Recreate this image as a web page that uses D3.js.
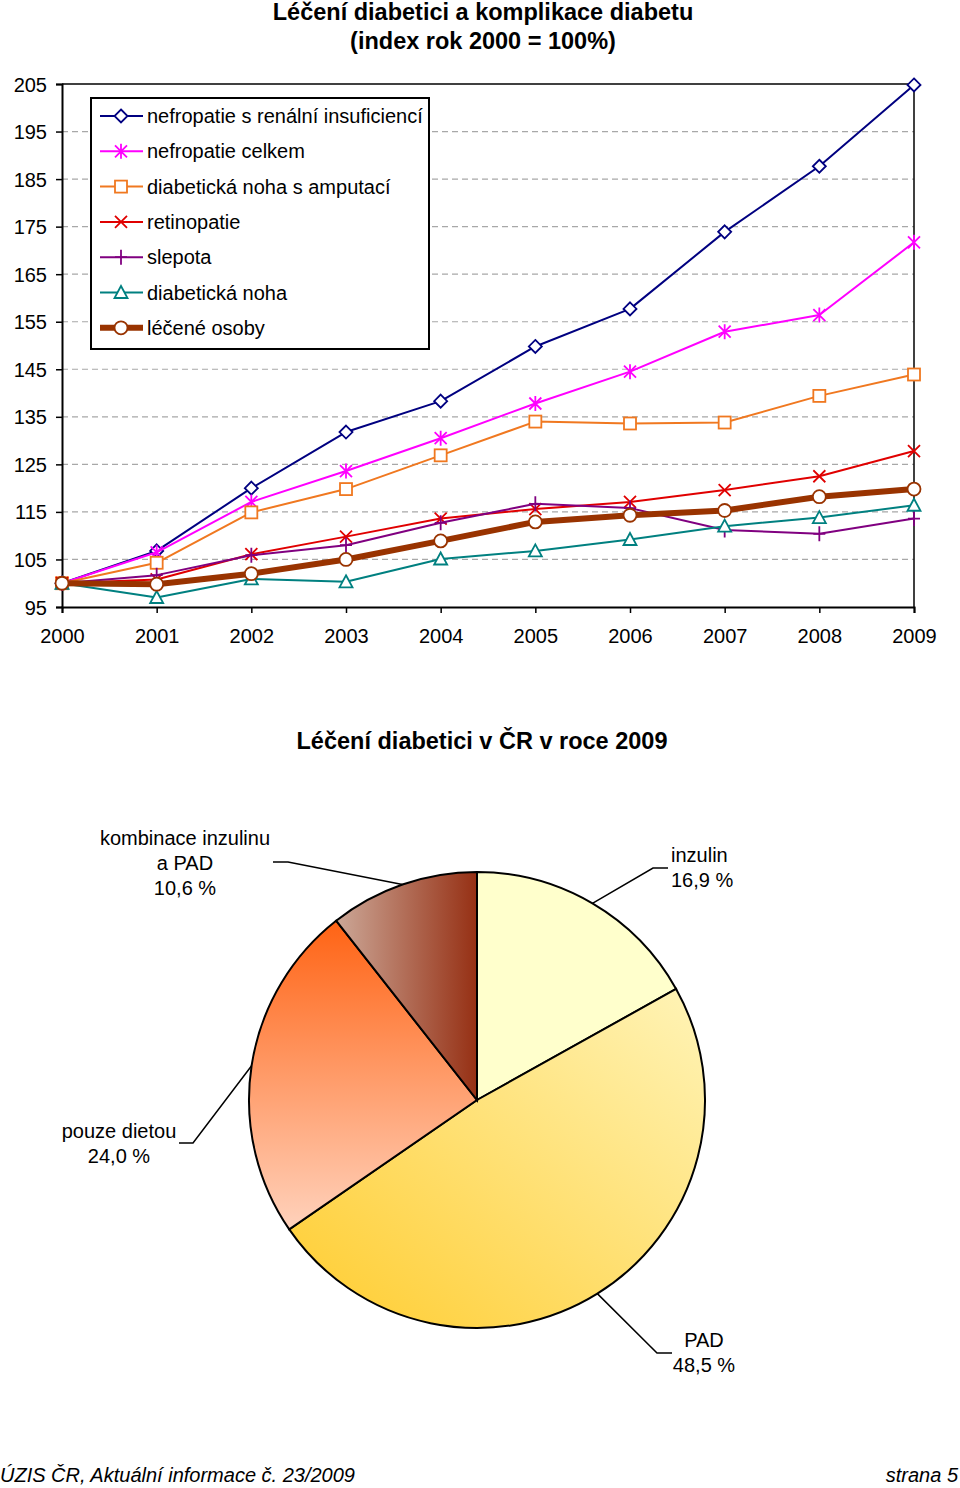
<!DOCTYPE html>
<html><head><meta charset="utf-8">
<script src="https://cdn.jsdelivr.net/npm/d3@7"></script>
<style>
body{margin:0;background:#fff;}
svg{display:block;font-family:"Liberation Sans",Arial,sans-serif;}
</style></head>
<body><svg id="c" width="960" height="1488"></svg>
<script>
const years = [2000,2001,2002,2003,2004,2005,2006,2007,2008,2009];
const yTicks = [95,105,115,125,135,145,155,165,175,185,195,205];
const seriesNames = ["nefropatie s renální insuficiencí","nefropatie celkem","diabetická noha s amputací","retinopatie","slepota","diabetická noha","léčené osoby"];
const nefroRen = [100,106.8,120.0,131.8,138.3,149.8,157.7,173.9,187.7,204.8];
const nefroCelk = [100,106.5,117.1,123.6,130.5,137.8,144.5,152.9,156.4,171.7];
const nohaAmp = [100,104.3,114.9,119.8,126.9,134.0,133.6,133.8,139.4,143.9];
const retino = [100,100.8,106.1,109.8,113.6,115.6,117.1,119.6,122.5,127.8];
const slepota = [100,101.7,105.9,108.0,112.7,116.7,115.8,111.2,110.4,113.6];
const noha = [100,97.0,100.9,100.3,105.1,106.8,109.2,112.0,113.8,116.4];
const leceni = [100,99.8,102.0,105.0,108.9,112.9,114.3,115.3,118.2,119.8];
const seriesValues = [nefroRen,nefroCelk,nohaAmp,retino,slepota,noha,leceni];

const pieLabels = ["inzulin","PAD","pouze dietou","kombinace inzulinu\na PAD"];
const pieValues = [16.9,48.5,24.0,10.6];

const svg = d3.select("#c");
const styles = [
 {c:"#000080",w:2,m:"diamond"},
 {c:"#FF00FF",w:2,m:"star"},
 {c:"#F07820",w:2,m:"square"},
 {c:"#E00000",w:2,m:"x"},
 {c:"#800080",w:2,m:"plus"},
 {c:"#008080",w:2,m:"triangle"},
 {c:"#993300",w:6,m:"circle"}
];
const FS = 20;

// Titles
svg.append("text").attr("x",483).attr("y",20).attr("text-anchor","middle").attr("font-weight","bold").attr("font-size",23.5).text("Léčení diabetici a komplikace diabetu");
svg.append("text").attr("x",483).attr("y",49).attr("text-anchor","middle").attr("font-weight","bold").attr("font-size",23.5).text("(index rok 2000 = 100%)");

const x = d3.scaleLinear().domain([2000,2009]).range([62,914]);
const y = d3.scaleLinear().domain([95,205]).range([607,84]);

const g = svg.append("g");
g.selectAll("line.grid").data(yTicks.filter(t=>t>95&&t<205)).join("line")
 .attr("x1",62).attr("x2",914).attr("y1",d=>y(d)).attr("y2",d=>y(d))
 .attr("stroke","#a8a8a8").attr("stroke-width",1.2).attr("stroke-dasharray","6,4");
g.append("line").attr("x1",62).attr("x2",914).attr("y1",y(205)).attr("y2",y(205)).attr("stroke","#000").attr("stroke-width",1.5);
g.append("line").attr("x1",914).attr("x2",914).attr("y1",y(205)).attr("y2",y(95)).attr("stroke","#000").attr("stroke-width",1.5);

const yAxis = d3.axisLeft(y).tickValues(yTicks).tickSize(6).tickFormat(d3.format("d"));
const ya = g.append("g").attr("transform","translate(62,0)").call(yAxis);
ya.select(".domain").attr("stroke-width",2);
ya.selectAll("line").attr("stroke-width",1.5);
ya.selectAll("text").attr("font-size",FS).attr("font-family","Liberation Sans,Arial").attr("fill","#000").attr("x",-15).attr("dy","0.35em");

const xAxis = d3.axisBottom(x).tickValues(years).tickSize(6).tickFormat(d3.format("d"));
const xa = g.append("g").attr("transform","translate(0,607)").call(xAxis);
xa.select(".domain").attr("stroke-width",2);
xa.selectAll("line").attr("stroke-width",1.5);
xa.selectAll("text").attr("font-size",FS).attr("font-family","Liberation Sans,Arial").attr("fill","#000").attr("y",22);

function marker(sel, type, color){
  sel.each(function(){
    const s = d3.select(this);
    if(type==="diamond") s.append("path").attr("d","M0,-6.5L6.5,0L0,6.5L-6.5,0Z").attr("fill","#fff").attr("stroke",color).attr("stroke-width",1.8);
    else if(type==="square") s.append("rect").attr("x",-6).attr("y",-6).attr("width",12).attr("height",12).attr("fill","#fff").attr("stroke",color).attr("stroke-width",1.8);
    else if(type==="triangle") s.append("path").attr("d","M0,-6.5L6.5,5.5L-6.5,5.5Z").attr("fill","#fff").attr("stroke",color).attr("stroke-width",1.8);
    else if(type==="circle") s.append("circle").attr("r",6.5).attr("fill","#fff").attr("stroke",color).attr("stroke-width",1.8);
    else if(type==="x") s.append("path").attr("d","M-6,-6L6,6M6,-6L-6,6").attr("stroke",color).attr("stroke-width",1.8).attr("fill","none");
    else if(type==="star") s.append("path").attr("d","M-6,-6L6,6M6,-6L-6,6M0,-7.5L0,7.5").attr("stroke",color).attr("stroke-width",1.8).attr("fill","none");
    else if(type==="plus") s.append("path").attr("d","M-6,0L6,0M0,-7.5L0,7.5").attr("stroke",color).attr("stroke-width",1.8).attr("fill","none");
  });
}

const line = d3.line().x((d,i)=>x(years[i])).y(d=>y(d));
seriesValues.forEach((vals,k)=>{
  const st = styles[k];
  g.append("path").datum(vals).attr("d",line).attr("fill","none").attr("stroke",st.c).attr("stroke-width",st.w).attr("stroke-linejoin","round");
  const mk = g.selectAll(null).data(vals).join("g").attr("transform",(d,i)=>`translate(${x(years[i])},${y(d)})`);
  marker(mk, st.m, st.c);
});

// Legend
const lg = svg.append("g");
lg.append("rect").attr("x",91).attr("y",98).attr("width",338).attr("height",251).attr("fill","#fff").attr("stroke","#000").attr("stroke-width",2);
seriesNames.forEach((n,k)=>{
  const st = styles[k];
  const yy = 116 + k*35.3;
  lg.append("line").attr("x1",100).attr("x2",143).attr("y1",yy).attr("y2",yy).attr("stroke",st.c).attr("stroke-width",st.w);
  const m = lg.append("g").attr("transform",`translate(121,${yy})`);
  marker(m, st.m, st.c);
  lg.append("text").attr("x",147).attr("y",yy).attr("dy","0.35em").attr("font-size",FS).text(n);
});

// Pie chart
svg.append("text").attr("x",482).attr("y",749).attr("text-anchor","middle").attr("font-weight","bold").attr("font-size",23.5).text("Léčení diabetici v ČR v roce 2009");

const defs = svg.append("defs");
const gr1 = defs.append("linearGradient").attr("id","gPAD").attr("x1",0).attr("y1",1).attr("x2",1).attr("y2",0);
gr1.append("stop").attr("offset",0).attr("stop-color","#FFCC2E");
gr1.append("stop").attr("offset",1).attr("stop-color","#FFF4B8");
const gr2 = defs.append("linearGradient").attr("id","gDiet").attr("x1",0).attr("y1",0).attr("x2",0).attr("y2",1);
gr2.append("stop").attr("offset",0).attr("stop-color","#FF6314");
gr2.append("stop").attr("offset",1).attr("stop-color","#FFD2BC");
const gr3 = defs.append("linearGradient").attr("id","gKomb").attr("x1",0).attr("y1",0).attr("x2",1).attr("y2",0);
gr3.append("stop").attr("offset",0).attr("stop-color","#CCA898");
gr3.append("stop").attr("offset",1).attr("stop-color","#963014");
const fills = ["#FFFFCC","url(#gPAD)","url(#gDiet)","url(#gKomb)"];

const cx = 477, cy = 1100, R = 228;
const pie = d3.pie().sort(null).value(d=>d);
const arcs = pie(pieValues);
const arc = d3.arc().innerRadius(0).outerRadius(R);
const pg = svg.append("g").attr("transform",`translate(${cx},${cy})`);
pg.selectAll("path").data(arcs).join("path").attr("d",arc).attr("fill",(d,i)=>fills[i]).attr("stroke","#000").attr("stroke-width",2);

const labelPos = [
  {elbow:[653,868], end:[668,868], tx:671, ty:[855,880], anchor:"start"},
  {elbow:[657,1353], end:[672,1353], tx:704, ty:[1340,1365], anchor:"middle"},
  {elbow:[193,1143], end:[179,1143], tx:119, ty:[1131,1156], anchor:"middle"},
  {elbow:[288,862], end:[273,862], tx:185, ty:[838,863,888], anchor:"middle"}
];
const fmt = v => d3.format(".1f")(v).replace(".",",") + " %";
arcs.forEach((a,i)=>{
  const mid = (a.startAngle+a.endAngle)/2;
  const px = cx + R*Math.sin(mid), py = cy - R*Math.cos(mid);
  const lp = labelPos[i];
  svg.append("polyline").attr("points",`${px},${py} ${lp.elbow[0]},${lp.elbow[1]} ${lp.end[0]},${lp.end[1]}`).attr("fill","none").attr("stroke","#000").attr("stroke-width",1.5);
  const lines = pieLabels[i].split("\n").concat([fmt(pieValues[i])]);
  lines.forEach((t,j)=>{
    svg.append("text").attr("x",lp.tx).attr("y",lp.ty[j]).attr("dy","0.35em").attr("text-anchor",lp.anchor).attr("font-size",FS).text(t);
  });
});

// Footer
svg.append("text").attr("x",0).attr("y",1482).attr("font-style","italic").attr("font-size",20).attr("font-family","Liberation Sans Narrow,Arial Narrow,Liberation Sans,sans-serif").text("ÚZIS ČR, Aktuální informace č. 23/2009");
svg.append("text").attr("x",958).attr("y",1482).attr("text-anchor","end").attr("font-style","italic").attr("font-size",20).attr("font-family","Liberation Sans Narrow,Arial Narrow,Liberation Sans,sans-serif").text("strana 5");
</script></body></html>
